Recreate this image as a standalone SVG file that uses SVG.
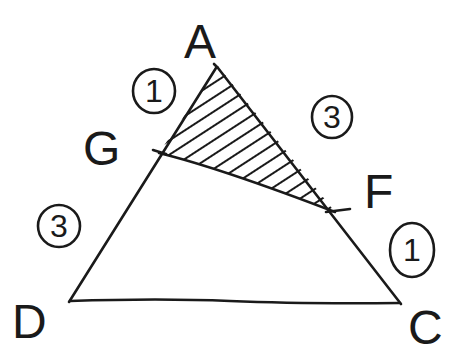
<svg xmlns="http://www.w3.org/2000/svg" width="468" height="359" viewBox="0 0 468 359">
<style>
.ln{fill:none;stroke:#1a1a1a;stroke-width:2.6;stroke-linecap:round;stroke-linejoin:round}
.lbl{font-family:"Liberation Sans",sans-serif;font-size:48px;fill:#1a1a1a}
.num{font-family:"Liberation Sans",sans-serif;font-size:32px;fill:#1a1a1a;text-anchor:middle}
.hatch{stroke:#1a1a1a;stroke-width:2.2}
</style>
<defs>
<clipPath id="tri"><path d="M218,66 L159,153 Q220,168 335,212 Z"/></clipPath>
<pattern id="hp" width="400" height="12" patternUnits="userSpaceOnUse" patternTransform="rotate(-33)">
<line class="hatch" x1="0" y1="6" x2="400" y2="6"/>
</pattern>
</defs>
<rect width="468" height="359" fill="#fff"/>
<g id="shading"><rect x="140" y="60" width="220" height="160" fill="url(#hp)" clip-path="url(#tri)"/></g>
<g id="connectors">
<path class="ln" d="M216,68 L69,302"/>
<path class="ln" d="M214,64 L218,68 L401,304"/>
<path class="ln" d="M70,301 Q160,298 230,301 T400,303"/>
<path class="ln" d="M159,153 Q220,168 335,212"/>
<path class="ln" d="M153,150 L166,154"/>
<path class="ln" d="M326,212 L350,209"/>
</g>
<g id="A"><text class="lbl" x="184" y="58">A</text></g>
<g id="G"><text class="lbl" x="83" y="165">G</text></g>
<g id="D"><text class="lbl" x="12" y="338">D</text></g>
<g id="C"><text class="lbl" x="408" y="344">C</text></g>
<g id="F"><text class="lbl" x="364" y="208">F</text></g>
<g id="n1a"><ellipse class="ln" cx="154" cy="91" rx="21" ry="22"/><text class="num" x="154" y="102">1</text></g>
<g id="n3a"><ellipse class="ln" cx="332" cy="117" rx="20" ry="21"/><text class="num" x="332" y="128">3</text></g>
<g id="n3b"><ellipse class="ln" cx="59" cy="226" rx="21" ry="21"/><text class="num" x="59" y="237">3</text></g>
<g id="n1b"><ellipse class="ln" cx="412" cy="250" rx="22" ry="27"/><text class="num" x="412" y="261">1</text></g>
</svg>
